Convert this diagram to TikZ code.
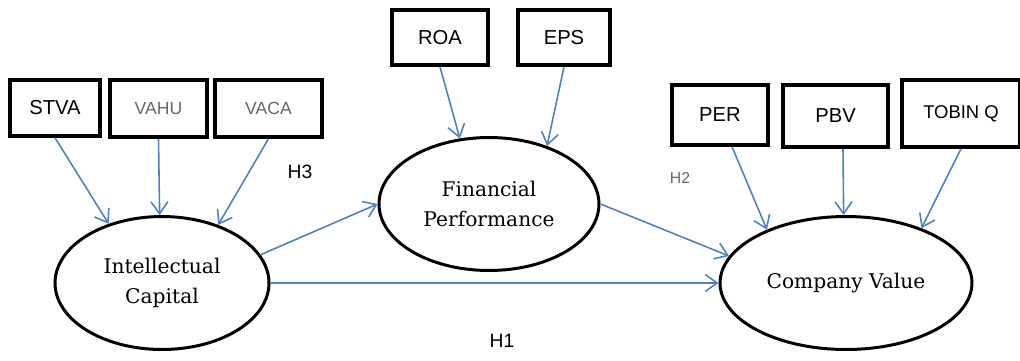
\documentclass[tikz,border=0pt]{standalone}
\usepackage{fontspec}
\setsansfont{Liberation Sans}
\newfontfamily\slabfont{DejaVu Serif}
\usetikzlibrary{arrows.meta, shapes.geometric}
\definecolor{linkblue}{RGB}{79,129,189}

\begin{document}
\begin{tikzpicture}[x=0.02cm, y=-0.02cm,
    ind/.style={draw, line width=2pt, rectangle, inner sep=0pt, font=\sffamily\fontsize{11.5}{13}\selectfont},
    faint/.style={text=black!60, font=\sffamily\fontsize{10}{12}\selectfont},
    latent/.style={draw, line width=1.7pt, ellipse, inner sep=0pt, align=center, font=\slabfont\fontsize{11.5}{17.5}\selectfont},
    link/.style={draw=linkblue, line width=0.9pt, -{Straight Barb[length=2.4mm, width=3.4mm]}},
    hyp/.style={font=\sffamily\fontsize{11}{13}\selectfont}]
    \useasboundingbox (0,0) rectangle (1020,360);

    % indicators
    \node[ind, minimum width=1.8cm, minimum height=1.12cm] (stva) at (55,108) {STVA};
    \node[ind, faint, minimum width=1.94cm, minimum height=1.14cm] (vahu) at (158.5,108.5) {VAHU};
    \node[ind, faint, minimum width=2.14cm, minimum height=1.14cm] (vaca) at (268.5,108.5) {VACA};
    \node[ind, minimum width=1.92cm, minimum height=1.1cm] (roa) at (440,37.5) {ROA};
    \node[ind, minimum width=1.84cm, minimum height=1.1cm] (eps) at (564,37.5) {EPS};
    \node[ind, minimum width=1.92cm, minimum height=1.2cm] (per) at (720,115) {PER};
    \node[ind, minimum width=2.1cm, minimum height=1.24cm] (pbv) at (835.5,116) {PBV};
    \node[ind, font=\sffamily\fontsize{10.5}{12}\selectfont, minimum width=2.36cm, minimum height=1.34cm] (tobin) at (961,113.5) {TOBIN Q};

    % constructs
    \node[latent, minimum width=4.28cm, minimum height=2.66cm] (ic) at (162,283) {Intellectual\\Capital};
    \node[latent, minimum width=4.4cm, minimum height=2.66cm] (fp) at (489,204) {Financial\\Performance};
    \node[latent, minimum width=5.04cm, minimum height=2.66cm] (cv) at (846,283) {Company Value};

    % hypotheses
    \node[hyp] (h3) at (300,172) {H3};
    \node[hyp, text=black!60, font=\sffamily\fontsize{9}{11}\selectfont] (h2) at (680,178) {H2};
    \node[hyp] (h1) at (502,341) {H1};

    \draw[link] (stva.south) -- (ic.132);
    \draw[link] (vahu.south) -- (ic.92);
    \draw[link] (vaca.south) -- (ic.46);
    \draw[link] (roa.south) -- (fp.114);
    \draw[link] (eps.south) -- (fp.45);
    \draw[link] ([xshift=0.24cm]per.south) -- (cv.146);
    \draw[link] ([xshift=0.15cm]pbv.south) -- (cv.92);
    \draw[link] (tobin.south) -- (cv.36);

    \draw[link] (ic.16) -- (fp.west);
    \draw[link] (fp.east) -- (cv.167);
    \draw[link] (ic.east) -- (cv.west);
\end{tikzpicture}
\end{document}
